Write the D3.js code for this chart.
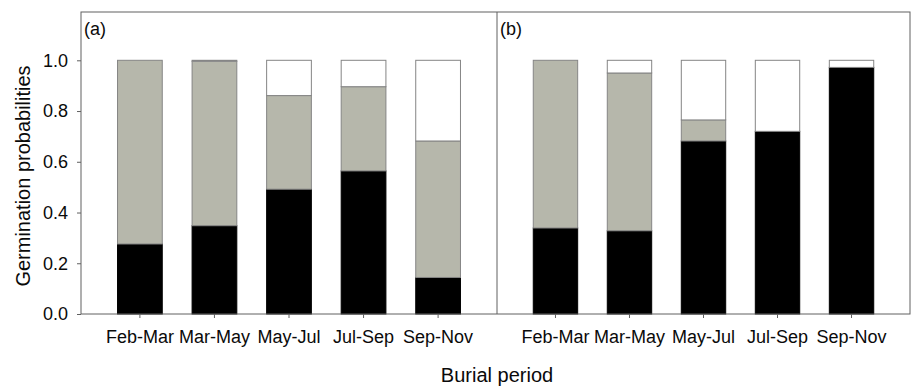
<!DOCTYPE html>
<html>
<head>
<meta charset="utf-8">
<script src="https://cdn.jsdelivr.net/npm/d3@7"></script>
<style>
  body { margin: 0; background: #fff; }
  text { font-family: "Liberation Sans", Arial, sans-serif; fill: #0a0a0a; }
</style>
</head>
<body>
<div id="chart"></div>
<script>
// --- DATA ---
const periods = ["Feb-Mar", "Mar-May", "May-Jul", "Jul-Sep", "Sep-Nov"];
const panelLabels = ["(a)", "(b)"];
const yTicks = [0, 0.2, 0.4, 0.6, 0.8, 1.0];
// stacked segments: black (bottom), grey (middle), white (top)
const blackA = [0.276, 0.348, 0.492, 0.564, 0.144];
const greyA  = [0.724, 0.648, 0.369, 0.332, 0.538];
const whiteA = [0.000, 0.004, 0.139, 0.104, 0.318];
const blackB = [0.339, 0.328, 0.682, 0.720, 0.972];
const greyB  = [0.661, 0.622, 0.083, 0.000, 0.000];
const whiteB = [0.000, 0.050, 0.235, 0.280, 0.028];

const width = 917, height = 386;
const plotTop = 12, plotBottom = 314;
const panels = [
  { x0: 81, x1: 497, black: blackA, grey: greyA, white: whiteA, label: panelLabels[0] },
  { x0: 497, x1: 910, black: blackB, grey: greyB, white: whiteB, label: panelLabels[1] }
];
const segColors = ["#000000", "#b6b7ab", "#ffffff"];
const frameColor = "#606060";

const svg = d3.select("#chart").append("svg")
  .attr("width", width)
  .attr("height", height);

const y = d3.scaleLinear().domain([0, 1]).range([plotBottom, 60.3]);

panels.forEach((p, pi) => {
  const x = d3.scaleBand().domain(periods).range([p.x0, p.x1])
    .paddingInner(0.4).paddingOuter(0.49);

  const rows = periods.map((c, i) => {
    const segs = [p.black[i], p.grey[i], p.white[i]];
    let acc = 0;
    return segs.map((v, k) => {
      const s = { cat: c, y0: acc, y1: acc + v, k };
      acc += v;
      return s;
    }).filter(s => s.y1 - s.y0 > 0);
  }).flat();

  svg.append("g").selectAll("rect")
    .data(rows)
    .join("rect")
    .attr("x", d => x(d.cat))
    .attr("width", x.bandwidth())
    .attr("y", d => y(d.y1))
    .attr("height", d => y(d.y0) - y(d.y1))
    .attr("fill", d => segColors[d.k])
    .attr("stroke", d => d.k === 0 ? "#000" : "#858585")
    .attr("stroke-width", 1);

  // x axis
  const xAxis = svg.append("g")
    .attr("transform", `translate(0,${plotBottom})`)
    .call(d3.axisBottom(x).tickSizeInner(4).tickSizeOuter(0).tickPadding(12));
  xAxis.select(".domain").remove();
  xAxis.selectAll("line").attr("stroke", frameColor);
  xAxis.selectAll("text").style("font-size", "18px").attr("fill", "#0a0a0a");

  svg.append("text")
    .attr("x", p.x0 + 3)
    .attr("y", 35)
    .style("font-size", "18px")
    .text(p.label);
});

// y axis (left panel only)
const yAxis = svg.append("g")
  .attr("transform", `translate(81,0)`)
  .call(d3.axisLeft(y).tickValues(yTicks).tickFormat(d3.format(".1f"))
    .tickSizeInner(4).tickSizeOuter(0).tickPadding(9));
yAxis.select(".domain").remove();
yAxis.selectAll("line").attr("stroke", frameColor);
yAxis.selectAll("text").style("font-size", "18px").attr("fill", "#0a0a0a");

// frame
svg.append("rect")
  .attr("x", 81).attr("y", plotTop)
  .attr("width", 910 - 81).attr("height", plotBottom - plotTop)
  .attr("fill", "none").attr("stroke", frameColor).attr("stroke-width", 1);
svg.append("line")
  .attr("x1", 497).attr("x2", 497).attr("y1", plotTop).attr("y2", plotBottom)
  .attr("stroke", frameColor);

// axis titles
svg.append("text")
  .attr("transform", `translate(30,176) rotate(-90)`)
  .attr("text-anchor", "middle")
  .style("font-size", "20px")
  .text("Germination probabilities");

svg.append("text")
  .attr("x", 497).attr("y", 382)
  .attr("text-anchor", "middle")
  .style("font-size", "20px")
  .text("Burial period");
</script>
</body>
</html>
